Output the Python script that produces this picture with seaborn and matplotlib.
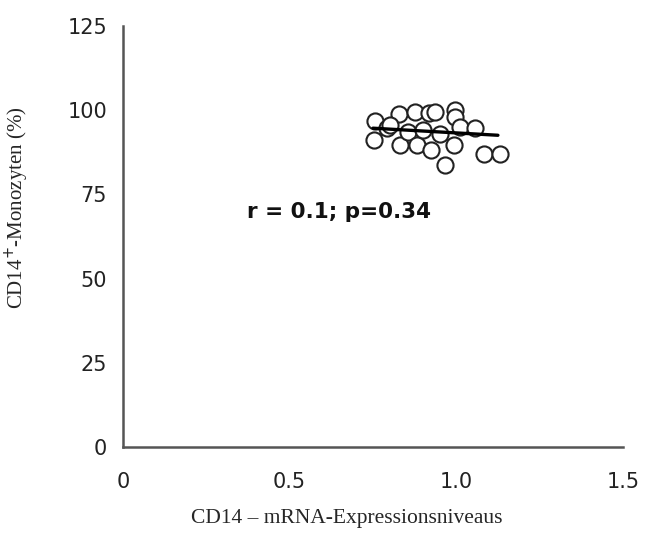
import matplotlib
matplotlib.use("Agg")
import matplotlib.pyplot as plt
import seaborn as sns
import pandas as pd

# data
mrna = [0.757, 0.752, 0.792, 0.827, 0.832, 0.856, 0.877, 0.882, 0.917, 0.935,
        0.925, 0.952, 0.967, 0.992, 0.997, 0.997, 1.012, 1.057, 1.082, 1.132, 0.80, 0.90]
monocytes = [96.7, 91.1, 94.6, 98.7, 89.6, 93.6, 99.3, 89.6, 99.0, 99.5,
             88.0, 93.0, 83.7, 89.6, 100.0, 98.0, 95.0, 94.6, 86.9, 86.9, 95.5, 94.0]
fit_x = [0.75, 1.125]
fit_y = [94.6, 92.5]
x_ticks = [0, 0.5, 1.0, 1.5]
x_ticklabels = ["0", "0.5", "1.0", "1.5"]
y_ticks = [0, 25, 50, 75, 100, 125]
annotation = "r = 0.1; p=0.34"
x_label = "CD14 – mRNA-Expressionsniveaus"
y_label = "CD14$^{+}$-Monozyten (%)"

df = pd.DataFrame({"x": mrna, "y": monocytes})
fit = pd.DataFrame({"x": fit_x, "y": fit_y})

sns.set_style("white")
fig = plt.figure(figsize=(6.45, 5.36), dpi=100)
ax = fig.add_axes([0.1907, 0.166, 0.775, 0.786])

sns.scatterplot(data=df, x="x", y="y", ax=ax, s=135, facecolor="white",
                edgecolor="#222222", linewidth=1.5, zorder=3)
sns.lineplot(data=fit, x="x", y="y", ax=ax, color="black", linewidth=2.4, zorder=4)

ax.set_xlim(0, 1.5)
ax.set_ylim(0, 125)
ax.set_xticks(x_ticks)
ax.set_xticklabels(x_ticklabels)
ax.set_yticks(y_ticks)
for s in ["top", "right"]:
    ax.spines[s].set_visible(False)
for s in ["left", "bottom"]:
    ax.spines[s].set_color("#555555")
    ax.spines[s].set_linewidth(1.8)
ax.tick_params(axis="both", direction="out", length=5, width=1.5, color="#555555",
               labelsize=15, labelcolor="#222222")
ax.tick_params(axis="x", pad=13)
ax.tick_params(axis="y", pad=6.5)
for lab in ax.get_xticklabels() + ax.get_yticklabels():
    lab.set_family("DejaVu Sans")

ax.set_xlabel("")
ax.set_ylabel("")
fig.text(347 / 645, 1 - 518 / 536, x_label, ha="center", va="center",
         family="Liberation Serif", fontsize=15.5)
fig.text(17 / 645, 1 - 208 / 536, y_label, ha="center", va="center", rotation=90,
         family="Liberation Serif", fontsize=15)
ax.text(0.649, 69.7, annotation, ha="center", va="center", fontsize=15.5,
        fontweight="bold", family="DejaVu Sans", color="#111111")

fig.savefig("out.png", dpi=100)
